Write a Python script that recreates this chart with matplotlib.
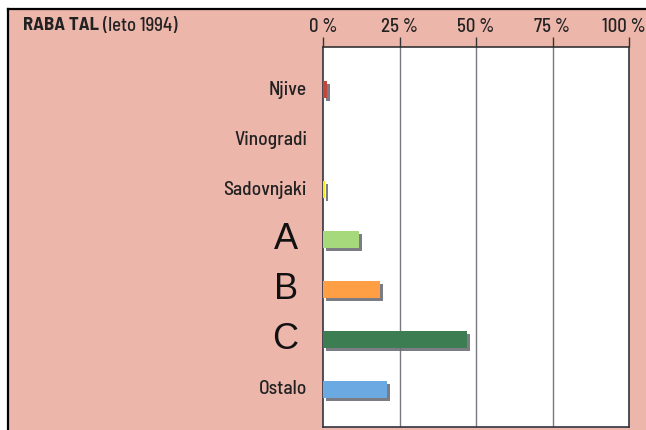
#!/usr/bin/env python3
# -*- coding: utf-8 -*-

import matplotlib
matplotlib.use("Agg")
import matplotlib.pyplot as plt
import matplotlib.patheffects as pe
from matplotlib.patches import Rectangle
from matplotlib.transforms import ScaledTranslation

categories = ["Njive", "Vinogradi", "Sadovnjaki", "A", "B", "C", "Ostalo"]
shares = [1.3, 0.0, 0.7, 11.7, 18.6, 47.0, 21.0]
bar_colors = ["#c4473c", "#d0d0d0", "#f2ee1a", "#a6d87c", "#ff9f45", "#3d7d52", "#6aa9e2"]
xticks = [0, 25, 50, 75, 100]
xtick_labels = ["0\u2009%", "25\u2009%", "50\u2009%", "75\u2009%", "100\u2009%"]
big_labels = {"A", "B", "C"}

W, H = 646, 430
PINK = "#ecb6ab"
NARROW = ["Barlow Semi Condensed", "DejaVu Sans"]

fig = plt.figure(figsize=(W / 100, H / 100), dpi=100)
fig.patch.set_facecolor("white")

# pink card with black top/left border
fig.patches.append(Rectangle((8 / W, 0), 1 - 8 / W, 1 - 9 / H, transform=fig.transFigure,
                             facecolor=PINK, edgecolor="none", zorder=-5))
fig.add_artist(plt.Line2D([8 / W, 1], [1 - 9 / H, 1 - 9 / H], transform=fig.transFigure,
                          color="black", lw=1.6, zorder=-4))
fig.add_artist(plt.Line2D([8 / W, 8 / W], [0, 1 - 9 / H], transform=fig.transFigure,
                          color="black", lw=1.6, zorder=-4))

left, right, top, bottom = 323, 629, 47, 427
ax = fig.add_axes([left / W, (H - bottom) / H, (right - left) / W, (bottom - top) / H])
ax.set_facecolor("white")

y = list(range(len(categories)))
shadow = [pe.SimplePatchShadow(offset=(2.2, -2.2), shadow_rgbFace="#6e6e78", alpha=0.9), pe.Normal()]
bars = ax.barh(y, shares, height=0.34, color=bar_colors, zorder=3)
for b in bars:
    if b.get_width() > 0:
        b.set_path_effects(shadow)

ax.set_xlim(0, 100)
ax.set_ylim(6.76, -0.86)
for xv in [25, 50, 75]:
    ax.axvline(xv, color="#7a7a80", lw=1.0, zorder=1)

for s in ["left", "bottom", "right"]:
    ax.spines[s].set_color("#333340")
    ax.spines[s].set_linewidth(1.2)
ax.spines["top"].set_color("#333333")
ax.spines["top"].set_linewidth(1.2)

ax.xaxis.tick_top()
ax.set_xticks(xticks)
ax.set_xticklabels(xtick_labels, family=NARROW, fontsize=13.5, fontweight=500, color="#222222")
ax.tick_params(axis="x", direction="out", length=7, width=1.0, color="#333333", pad=1)
ax.set_yticks([])
last = ax.get_xticklabels()[-1]
last.set_transform(last.get_transform() + ScaledTranslation(-0.05, 0, fig.dpi_scale_trans))

for yi, name in zip(y, categories):
    if name in big_labels:
        ax.text(-25 / (right - left), yi, name, transform=ax.get_yaxis_transform(),
                ha="right", va="center", fontsize=26, family=["Liberation Sans", "DejaVu Sans"],
                color="#111111")
    else:
        ax.text(-16 / (right - left), yi, name, transform=ax.get_yaxis_transform(),
                ha="right", va="center", fontsize=14, fontweight=500, family=NARROW,
                color="#222222")

t1 = fig.text(23 / W, 1 - 26 / H, "RABA TAL", fontsize=13.5, fontweight="bold", family=NARROW,
              color="#222222", va="center", ha="left")
fig.canvas.draw()
x_end = t1.get_window_extent().x1
fig.text((x_end + 4) / W, 1 - 26 / H, "(leto 1994)", fontsize=13.5, fontweight=500, family=NARROW,
         color="#222222", va="center", ha="left")

fig.savefig("out.png", dpi=100, facecolor=fig.get_facecolor())
